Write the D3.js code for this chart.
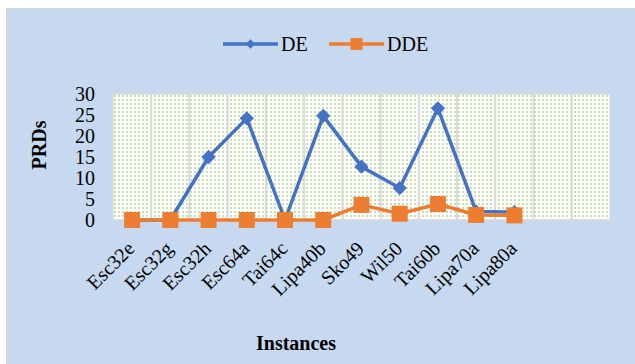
<!DOCTYPE html>
<html><head><meta charset="utf-8">
<script src="https://cdn.jsdelivr.net/npm/d3@7/dist/d3.min.js"></script>
<style>body{margin:0;background:#fff}svg{display:block}</style>
</head><body>
<svg id="c" width="635" height="364"></svg>
<script>
const categories = ["Esc32e","Esc32g","Esc32h","Esc64a","Tai64c","Lipa40b","Sko49","Wil50","Tai60b","Lipa70a","Lipa80a","",""];
const deValues  = [0, 0, 15, 24.2, 0, 24.8, 12.7, 7.6, 26.6, 2.0, 1.9];
const ddeValues = [0, 0, 0, 0, 0, 0, 3.6, 1.5, 3.8, 1.2, 1.1];
const yTicks = [0,5,10,15,20,25,30];
const seriesNames = ["DE","DDE"];
const colors = ["#4472C4","#ED7D31"];

(function(){
const svg = d3.select("#c");
const font = "'Liberation Serif','Times New Roman',serif";

svg.append("rect").attr("x",6.5).attr("y",8.5).attr("width",635).attr("height",362)
  .attr("fill","#C6D9F0").attr("stroke","#D3D3D3");

const defs = svg.append("defs");
const pat = defs.append("pattern").attr("id","dots").attr("patternUnits","userSpaceOnUse")
  .attr("width",4).attr("height",4).attr("x",113).attr("y",94);
pat.append("rect").attr("width",4).attr("height",4).attr("fill","#ffffff");
pat.append("circle").attr("cx",2).attr("cy",2).attr("r",1.1).attr("fill","#BCD99A");

const pL=113, pR=610, pT=94, pB=220;
const x = d3.scaleBand().domain(categories.map((d,i)=>i)).range([pL,pR]);
const y = d3.scaleLinear().domain([0,30]).range([pB,pT]);

svg.append("rect").attr("x",pL).attr("y",pT).attr("width",pR-pL).attr("height",pB-pT)
  .attr("fill","url(#dots)");

const bounds = categories.map((d,i)=>x(i)).slice(1);
svg.append("g").selectAll("line").data(bounds).join("line")
  .attr("x1",d=>d).attr("x2",d=>d).attr("y1",pT).attr("y2",pB)
  .attr("stroke","#D9D9D9").attr("stroke-width",2);
svg.append("rect").attr("x",pL).attr("y",pT).attr("width",pR-pL).attr("height",pB-pT)
  .attr("fill","none").attr("stroke","#D9D9D9").attr("stroke-width",1.5);

const yAxis = d3.axisLeft(y).tickValues(yTicks).tickSize(0).tickPadding(18);
const yg = svg.append("g").attr("transform",`translate(${pL},0)`).call(yAxis);
yg.select(".domain").remove();
yg.selectAll("text").attr("font-family",font).attr("font-size",20).attr("fill","#000");

const xAxis = d3.axisBottom(x).tickFormat(i=>categories[i]).tickSize(0).tickPadding(0);
const xg = svg.append("g").attr("transform",`translate(0,${pB+10})`).call(xAxis);
xg.select(".domain").remove();
xg.selectAll("text").attr("font-family",font).attr("font-size",20).attr("fill","#000")
  .attr("text-anchor","end").attr("y",0).attr("dy","0.55em").attr("dx","0.35em")
  .attr("transform","translate(-9,17) rotate(-45)");

const line = d3.line().x((d,i)=>x(i)+x.bandwidth()/2).y(d=>y(d));
[deValues, ddeValues].forEach((vals,k)=>{
  svg.append("path").datum(vals).attr("d",line).attr("fill","none")
    .attr("stroke",colors[k]).attr("stroke-width",3.5).attr("stroke-linejoin","round");
});
svg.append("g").selectAll("path").data(deValues).join("path")
  .attr("d",d3.symbol().type(d3.symbolSquare2).size(130))
  .attr("transform",(d,i)=>`translate(${x(i)+x.bandwidth()/2},${y(d)}) rotate(45)`)
  .attr("fill",colors[0]);
svg.append("g").selectAll("rect").data(ddeValues).join("rect")
  .attr("x",(d,i)=>x(i)+x.bandwidth()/2-8).attr("y",d=>y(d)-8)
  .attr("width",16).attr("height",16).attr("fill",colors[1]);

svg.append("text").attr("transform","translate(46,145) rotate(-90)")
  .attr("text-anchor","middle").attr("font-family",font).attr("font-weight","bold")
  .attr("font-size",20).text("PRDs");
svg.append("text").attr("x",296).attr("y",350).attr("text-anchor","middle")
  .attr("font-family",font).attr("font-weight","bold").attr("font-size",20).text("Instances");

const legend = [{x1:223,x2:278,tx:281},{x1:329,x2:384,tx:387}];
legend.forEach((L,k)=>{
  const g = svg.append("g");
  g.append("line").attr("x1",L.x1).attr("x2",L.x2).attr("y1",44).attr("y2",44)
    .attr("stroke",colors[k]).attr("stroke-width",3.5);
  const cx=(L.x1+L.x2)/2;
  if(k===0) g.append("path").attr("d",d3.symbol().type(d3.symbolSquare2).size(55))
     .attr("transform",`translate(${cx},44) rotate(45)`).attr("fill",colors[0]);
  else g.append("rect").attr("x",cx-6).attr("y",38).attr("width",12).attr("height",12).attr("fill",colors[1]);
  g.append("text").attr("x",L.tx).attr("y",51).attr("font-family",font).attr("font-size",20)
    .text(seriesNames[k]);
});
})();
</script>
</body></html>
